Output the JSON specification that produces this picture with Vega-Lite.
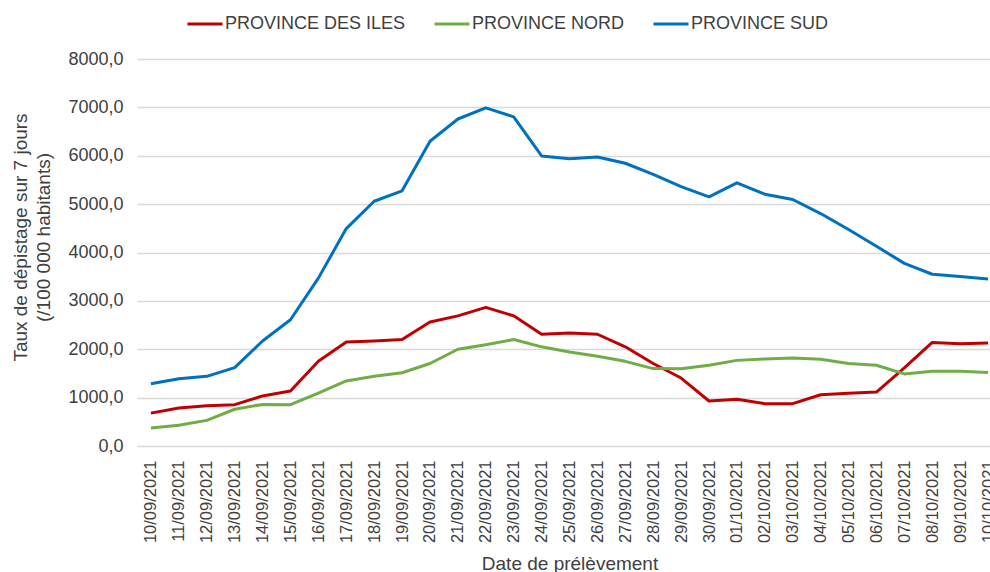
{
  "$schema": "https://vega.github.io/schema/vega-lite/v6.json",
  "width": 865,
  "height": 387,
  "autosize": {"type": "none"},
  "padding": {"left": 137, "top": 59, "right": 0, "bottom": 126},
  "background": "white",
  "config": {
    "font": "Liberation Sans",
    "view": {"stroke": null},
    "axis": {"labelColor": "#404040", "titleColor": "#404040", "titleFontWeight": "normal"}
  },
  "datasets": {
    "rows": [
      {"date": "10/09/2021", "province": "PROVINCE DES ILES", "taux": 680},
      {"date": "11/09/2021", "province": "PROVINCE DES ILES", "taux": 785},
      {"date": "12/09/2021", "province": "PROVINCE DES ILES", "taux": 830},
      {"date": "13/09/2021", "province": "PROVINCE DES ILES", "taux": 855},
      {"date": "14/09/2021", "province": "PROVINCE DES ILES", "taux": 1035},
      {"date": "15/09/2021", "province": "PROVINCE DES ILES", "taux": 1135},
      {"date": "16/09/2021", "province": "PROVINCE DES ILES", "taux": 1750},
      {"date": "17/09/2021", "province": "PROVINCE DES ILES", "taux": 2150},
      {"date": "18/09/2021", "province": "PROVINCE DES ILES", "taux": 2170},
      {"date": "19/09/2021", "province": "PROVINCE DES ILES", "taux": 2200},
      {"date": "20/09/2021", "province": "PROVINCE DES ILES", "taux": 2565},
      {"date": "21/09/2021", "province": "PROVINCE DES ILES", "taux": 2690},
      {"date": "22/09/2021", "province": "PROVINCE DES ILES", "taux": 2865},
      {"date": "23/09/2021", "province": "PROVINCE DES ILES", "taux": 2690},
      {"date": "24/09/2021", "province": "PROVINCE DES ILES", "taux": 2310},
      {"date": "25/09/2021", "province": "PROVINCE DES ILES", "taux": 2335},
      {"date": "26/09/2021", "province": "PROVINCE DES ILES", "taux": 2310},
      {"date": "27/09/2021", "province": "PROVINCE DES ILES", "taux": 2050},
      {"date": "28/09/2021", "province": "PROVINCE DES ILES", "taux": 1705},
      {"date": "29/09/2021", "province": "PROVINCE DES ILES", "taux": 1405},
      {"date": "30/09/2021", "province": "PROVINCE DES ILES", "taux": 930},
      {"date": "01/10/2021", "province": "PROVINCE DES ILES", "taux": 965},
      {"date": "02/10/2021", "province": "PROVINCE DES ILES", "taux": 875},
      {"date": "03/10/2021", "province": "PROVINCE DES ILES", "taux": 875},
      {"date": "04/10/2021", "province": "PROVINCE DES ILES", "taux": 1060},
      {"date": "05/10/2021", "province": "PROVINCE DES ILES", "taux": 1090},
      {"date": "06/10/2021", "province": "PROVINCE DES ILES", "taux": 1115},
      {"date": "07/10/2021", "province": "PROVINCE DES ILES", "taux": 1615},
      {"date": "08/10/2021", "province": "PROVINCE DES ILES", "taux": 2140},
      {"date": "09/10/2021", "province": "PROVINCE DES ILES", "taux": 2115},
      {"date": "10/10/2021", "province": "PROVINCE DES ILES", "taux": 2130},
      {"date": "10/09/2021", "province": "PROVINCE NORD", "taux": 370},
      {"date": "11/09/2021", "province": "PROVINCE NORD", "taux": 430},
      {"date": "12/09/2021", "province": "PROVINCE NORD", "taux": 530},
      {"date": "13/09/2021", "province": "PROVINCE NORD", "taux": 760},
      {"date": "14/09/2021", "province": "PROVINCE NORD", "taux": 860},
      {"date": "15/09/2021", "province": "PROVINCE NORD", "taux": 855},
      {"date": "16/09/2021", "province": "PROVINCE NORD", "taux": 1095},
      {"date": "17/09/2021", "province": "PROVINCE NORD", "taux": 1345},
      {"date": "18/09/2021", "province": "PROVINCE NORD", "taux": 1440},
      {"date": "19/09/2021", "province": "PROVINCE NORD", "taux": 1515},
      {"date": "20/09/2021", "province": "PROVINCE NORD", "taux": 1705},
      {"date": "21/09/2021", "province": "PROVINCE NORD", "taux": 2000},
      {"date": "22/09/2021", "province": "PROVINCE NORD", "taux": 2095},
      {"date": "23/09/2021", "province": "PROVINCE NORD", "taux": 2200},
      {"date": "24/09/2021", "province": "PROVINCE NORD", "taux": 2050},
      {"date": "25/09/2021", "province": "PROVINCE NORD", "taux": 1945},
      {"date": "26/09/2021", "province": "PROVINCE NORD", "taux": 1855},
      {"date": "27/09/2021", "province": "PROVINCE NORD", "taux": 1750},
      {"date": "28/09/2021", "province": "PROVINCE NORD", "taux": 1600},
      {"date": "29/09/2021", "province": "PROVINCE NORD", "taux": 1595},
      {"date": "30/09/2021", "province": "PROVINCE NORD", "taux": 1670},
      {"date": "01/10/2021", "province": "PROVINCE NORD", "taux": 1770},
      {"date": "02/10/2021", "province": "PROVINCE NORD", "taux": 1800},
      {"date": "03/10/2021", "province": "PROVINCE NORD", "taux": 1820},
      {"date": "04/10/2021", "province": "PROVINCE NORD", "taux": 1795},
      {"date": "05/10/2021", "province": "PROVINCE NORD", "taux": 1705},
      {"date": "06/10/2021", "province": "PROVINCE NORD", "taux": 1670},
      {"date": "07/10/2021", "province": "PROVINCE NORD", "taux": 1490},
      {"date": "08/10/2021", "province": "PROVINCE NORD", "taux": 1545},
      {"date": "09/10/2021", "province": "PROVINCE NORD", "taux": 1545},
      {"date": "10/10/2021", "province": "PROVINCE NORD", "taux": 1520},
      {"date": "10/09/2021", "province": "PROVINCE SUD", "taux": 1285},
      {"date": "11/09/2021", "province": "PROVINCE SUD", "taux": 1390},
      {"date": "12/09/2021", "province": "PROVINCE SUD", "taux": 1440},
      {"date": "13/09/2021", "province": "PROVINCE SUD", "taux": 1620},
      {"date": "14/09/2021", "province": "PROVINCE SUD", "taux": 2170},
      {"date": "15/09/2021", "province": "PROVINCE SUD", "taux": 2610},
      {"date": "16/09/2021", "province": "PROVINCE SUD", "taux": 3470},
      {"date": "17/09/2021", "province": "PROVINCE SUD", "taux": 4495},
      {"date": "18/09/2021", "province": "PROVINCE SUD", "taux": 5060},
      {"date": "19/09/2021", "province": "PROVINCE SUD", "taux": 5275},
      {"date": "20/09/2021", "province": "PROVINCE SUD", "taux": 6300},
      {"date": "21/09/2021", "province": "PROVINCE SUD", "taux": 6760},
      {"date": "22/09/2021", "province": "PROVINCE SUD", "taux": 6990},
      {"date": "23/09/2021", "province": "PROVINCE SUD", "taux": 6805},
      {"date": "24/09/2021", "province": "PROVINCE SUD", "taux": 5995},
      {"date": "25/09/2021", "province": "PROVINCE SUD", "taux": 5940},
      {"date": "26/09/2021", "province": "PROVINCE SUD", "taux": 5975},
      {"date": "27/09/2021", "province": "PROVINCE SUD", "taux": 5845},
      {"date": "28/09/2021", "province": "PROVINCE SUD", "taux": 5615},
      {"date": "29/09/2021", "province": "PROVINCE SUD", "taux": 5360},
      {"date": "30/09/2021", "province": "PROVINCE SUD", "taux": 5150},
      {"date": "01/10/2021", "province": "PROVINCE SUD", "taux": 5440},
      {"date": "02/10/2021", "province": "PROVINCE SUD", "taux": 5205},
      {"date": "03/10/2021", "province": "PROVINCE SUD", "taux": 5095},
      {"date": "04/10/2021", "province": "PROVINCE SUD", "taux": 4805},
      {"date": "05/10/2021", "province": "PROVINCE SUD", "taux": 4475},
      {"date": "06/10/2021", "province": "PROVINCE SUD", "taux": 4130},
      {"date": "07/10/2021", "province": "PROVINCE SUD", "taux": 3775},
      {"date": "08/10/2021", "province": "PROVINCE SUD", "taux": 3550},
      {"date": "09/10/2021", "province": "PROVINCE SUD", "taux": 3505},
      {"date": "10/10/2021", "province": "PROVINCE SUD", "taux": 3450}
    ]
  },
  "data": {"name": "rows"},
  "mark": {"type": "line", "strokeWidth": 3, "strokeJoin": "round"},
  "encoding": {
    "x": {
      "field": "date",
      "type": "nominal",
      "sort": null,
      "scale": {"type": "point", "padding": 0.5},
      "axis": {
        "title": "Date de prélèvement",
        "titleFontSize": 19,
        "titlePadding": 12,
        "labelAngle": -90,
        "labelFontSize": 16.5,
        "labelPadding": 14,
        "ticks": false,
        "domain": false,
        "grid": false
      }
    },
    "y": {
      "field": "taux",
      "type": "quantitative",
      "scale": {"domain": [0, 8000], "nice": false},
      "axis": {
        "title": ["Taux de dépistage sur 7 jours", "(/100 000 habitants)"],
        "titleFontSize": 19,
        "titleLineHeight": 23,
        "titlePadding": 14,
        "titleY": 178,
        "values": [0, 1000, 2000, 3000, 4000, 5000, 6000, 7000, 8000],
        "labelExpr": "replace(format(datum.value, '.1f'), '.', ',')",
        "labelFontSize": 18,
        "labelPadding": 14,
        "ticks": false,
        "domain": false,
        "grid": true,
        "gridColor": "#d9d9d9",
        "gridWidth": 1.5
      }
    },
    "color": {
      "field": "province",
      "type": "nominal",
      "sort": null,
      "scale": {
        "domain": ["PROVINCE DES ILES", "PROVINCE NORD", "PROVINCE SUD"],
        "range": ["#c00000", "#70ad47", "#0070c0"]
      },
      "legend": {
        "title": null,
        "orient": "none",
        "direction": "horizontal",
        "legendX": 49,
        "legendY": -54,
        "symbolType": "stroke",
        "symbolSize": 1225,
        "symbolStrokeWidth": 3,
        "labelFontSize": 18,
        "labelColor": "#404040",
        "labelOffset": 1,
        "columnPadding": 22,
        "labelLimit": 300
      }
    }
  }
}
